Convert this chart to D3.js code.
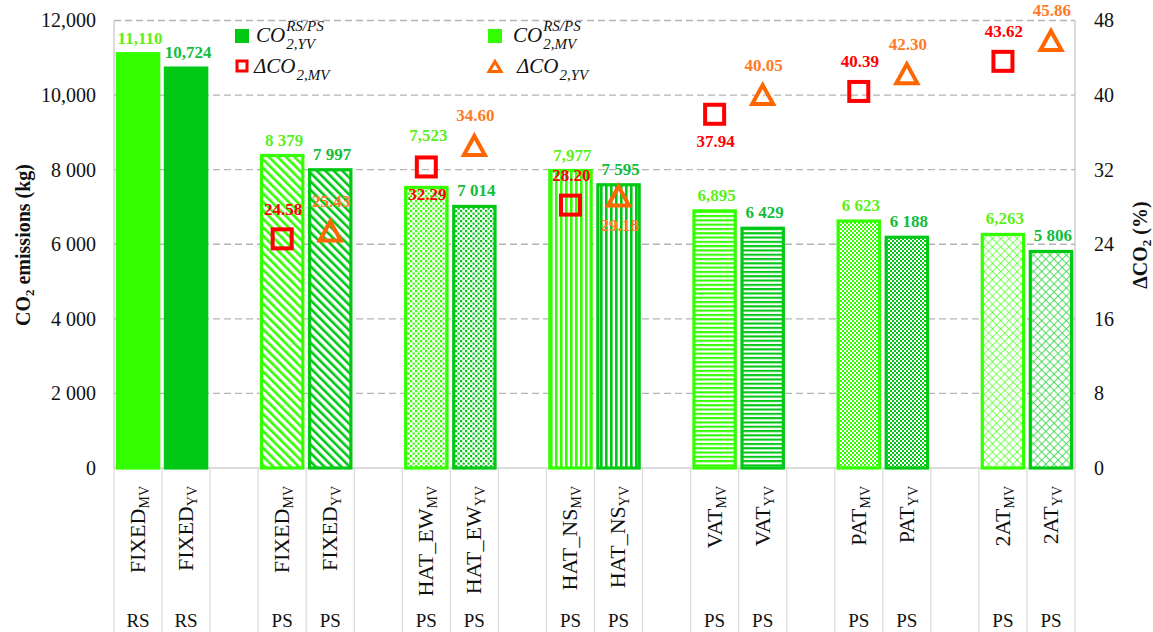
<!DOCTYPE html>
<html><head><meta charset="utf-8">
<script src="https://cdn.jsdelivr.net/npm/d3@7"></script>
<style>
html,body{margin:0;padding:0;background:#fff;}
svg{display:block;font-family:"Liberation Serif","Times New Roman",serif;}
</style></head><body>
<svg id="chart" width="1153" height="632"></svg>
<script>
// ---- data ----
const groups = ["FIXED", "FIXED", "HAT_EW", "HAT_NS", "VAT", "PAT", "2AT"];
const systems = ["RS", "PS", "PS", "PS", "PS", "PS", "PS"];
const variants = ["MV", "YV"];
const co2MV = [11110, 8379, 7523, 7977, 6895, 6623, 6263];
const co2YV = [10724, 7997, 7014, 7595, 6429, 6188, 5806];
const co2MVLabels = ["11,110", "8 379", "7,523", "7,977", "6,895", "6 623", "6,263"];
const co2YVLabels = ["10,724", "7 997", "7 014", "7 595", "6 429", "6 188", "5 806"];
const deltaMV = [null, 24.58, 32.29, 28.20, 37.94, 40.39, 43.62];
const deltaYV = [null, 25.43, 34.60, 29.18, 40.05, 42.30, 45.86];
const leftTicks = [0, 2000, 4000, 6000, 8000, 10000, 12000];
const leftTickLabels = ["0", "2 000", "4 000", "6 000", "8 000", "10,000", "12,000"];
const rightTicks = [0, 8, 16, 24, 32, 40, 48];

// ---- layout / style ----
const fills = ["solid", "diag", "dots", "vert", "horiz", "check", "cross"];
const deltaMVSide = [null, "above", "below", "above", "below", "above", "above"];
const deltaYVSide = [null, "above", "above", "below", "above", "above", "above"];
const mvLabelLift = [0, 0, 36, 0, 0, 0, 0];
const C_MV = "#33ff00", C_YV = "#00c814";
const C_MV_TXT = "#5cf01a", C_YV_TXT = "#12bd3c";
const C_RED = "#ff0000", C_ORANGE = "#ff6600", C_ORANGE_TXT = "#ff7a26";
const box = {left: 114, right: 1075, top: 20.5, bottom: 468};

const svg = d3.select("#chart");

// slot list: MV, YV and a spacer between consecutive groups
const slots = [];
groups.forEach((g, i) => {
  slots.push(i + "|MV"); slots.push(i + "|YV");
  if (i < groups.length - 1) slots.push(i + "|gap");
});

const x = d3.scaleBand().domain(slots).range([box.left, box.right])
  .paddingInner(0.14).paddingOuter(0.07);
const y = d3.scaleLinear().domain([0, 12000]).range([box.bottom, box.top]);
const y2 = d3.scaleLinear().domain([0, 48]).range([box.bottom, box.top]);

// ---- fill patterns ----
const defs = svg.append("defs");
function makePattern(id, kind, color) {
  const p = defs.append("pattern").attr("id", id).attr("patternUnits", "userSpaceOnUse");
  const sz = {diag: [6, 6], dots: [5, 5], vert: [5, 5], horiz: [5, 4.3], check: [4, 4], cross: [5.8, 5.8]}[kind];
  p.attr("width", sz[0]).attr("height", sz[1]);
  p.append("rect").attr("width", sz[0]).attr("height", sz[1]).attr("fill", "#fff");
  if (kind === "diag") {
    p.attr("patternTransform", "rotate(-45)");
    p.append("rect").attr("width", 2.6).attr("height", 6).attr("fill", color);
  } else if (kind === "dots") {
    p.append("rect").attr("width", 2.2).attr("height", 2.2).attr("fill", color);
    p.append("rect").attr("x", 2.5).attr("y", 2.5).attr("width", 2.2).attr("height", 2.2).attr("fill", color);
  } else if (kind === "vert") {
    p.append("rect").attr("width", 2.6).attr("height", 5).attr("fill", color);
  } else if (kind === "horiz") {
    p.append("rect").attr("width", 5).attr("height", 2.1).attr("fill", color);
  } else if (kind === "check") {
    p.append("rect").attr("width", 2).attr("height", 2).attr("fill", color);
    p.append("rect").attr("x", 2).attr("y", 2).attr("width", 2).attr("height", 2).attr("fill", color);
  } else if (kind === "cross") {
    p.attr("patternTransform", "rotate(45)");
    p.append("rect").attr("width", 5.8).attr("height", 1.1).attr("fill", color).attr("opacity", 0.6);
    p.append("rect").attr("width", 1.1).attr("height", 5.8).attr("fill", color).attr("opacity", 0.6);
  }
}
fills.forEach(k => {
  if (k === "solid") return;
  makePattern("p-" + k + "-MV", k, C_MV);
  makePattern("p-" + k + "-YV", k, C_YV);
});

// ---- gridlines & frame ----
svg.append("g").selectAll("line").data(leftTicks.filter(t => t > 0)).join("line")
  .attr("x1", box.left).attr("x2", box.right)
  .attr("y1", d => y(d)).attr("y2", d => y(d))
  .attr("stroke", "#b4b4b4").attr("stroke-width", 1.3).attr("stroke-dasharray", "7,4");
svg.append("line").attr("x1", box.left).attr("x2", box.left).attr("y1", box.top).attr("y2", box.bottom)
  .attr("stroke", "#c8c8c8").attr("stroke-width", 1.3);
svg.append("line").attr("x1", box.right).attr("x2", box.right).attr("y1", box.top).attr("y2", box.bottom)
  .attr("stroke", "#c8c8c8").attr("stroke-width", 1.3);

// category table under the plot
const step = x.step();
svg.append("g").selectAll("line").data(d3.range(slots.length + 1)).join("line")
  .attr("x1", i => box.left + i * step).attr("x2", i => box.left + i * step)
  .attr("y1", box.bottom).attr("y2", 632)
  .attr("stroke", "#dcdcdc").attr("stroke-width", 1.3);
svg.append("line").attr("x1", box.left).attr("x2", box.right).attr("y1", box.bottom).attr("y2", box.bottom)
  .attr("stroke", "#d0d0d0").attr("stroke-width", 1.5);

// ---- bars ----
const bars = [];
groups.forEach((g, i) => {
  bars.push({i, v: "MV", value: co2MV[i], label: co2MVLabels[i]});
  bars.push({i, v: "YV", value: co2YV[i], label: co2YVLabels[i]});
});
svg.append("g").selectAll("rect").data(bars).join("rect")
  .attr("x", d => x(d.i + "|" + d.v))
  .attr("width", x.bandwidth())
  .attr("y", d => y(d.value))
  .attr("height", d => y(0) - y(d.value))
  .attr("fill", d => fills[d.i] === "solid" ? (d.v === "MV" ? C_MV : C_YV) : `url(#p-${fills[d.i]}-${d.v})`)
  .attr("stroke", d => d.v === "MV" ? C_MV : C_YV)
  .attr("stroke-width", 3.2);

// bar value labels
svg.append("g").selectAll("text").data(bars).join("text")
  .attr("x", d => x(d.i + "|" + d.v) + x.bandwidth() / 2 + 2)
  .attr("y", d => y(d.value) - 10 - (d.v === "MV" ? mvLabelLift[d.i] : 0))
  .attr("text-anchor", "middle")
  .attr("font-size", 17).attr("font-weight", "bold")
  .attr("fill", d => d.v === "MV" ? C_MV_TXT : C_YV_TXT)
  .text(d => d.label);

// ---- percentage markers ----
const cx = (i, v) => x(i + "|" + v) + x.bandwidth() / 2;
const mvPts = deltaMV.map((d, i) => ({i, d})).filter(p => p.d != null);
const yvPts = deltaYV.map((d, i) => ({i, d})).filter(p => p.d != null);

svg.append("g").selectAll("rect").data(mvPts).join("rect")
  .attr("x", p => cx(p.i, "MV") - 9.5).attr("y", p => y2(p.d) - 9.5)
  .attr("width", 19).attr("height", 19)
  .attr("fill", "none").attr("stroke", C_RED).attr("stroke-width", 4);
const tri = d3.line()([[0, -9.5], [10.5, 9.5], [-10.5, 9.5]]) + "Z";
svg.append("g").selectAll("path").data(yvPts).join("path")
  .attr("transform", p => `translate(${cx(p.i, "YV")},${y2(p.d)})`)
  .attr("d", tri)
  .attr("fill", "none").attr("stroke", C_ORANGE).attr("stroke-width", 4);

svg.append("g").selectAll("text").data(mvPts).join("text")
  .attr("x", p => cx(p.i, "MV") + 1)
  .attr("y", p => y2(p.d) + (deltaMVSide[p.i] === "above" ? -24 : 33))
  .attr("text-anchor", "middle").attr("font-size", 17).attr("font-weight", "bold")
  .attr("fill", C_RED).text(p => p.d.toFixed(2));
svg.append("g").selectAll("text").data(yvPts).join("text")
  .attr("x", p => cx(p.i, "YV") + 1)
  .attr("y", p => y2(p.d) + (deltaYVSide[p.i] === "above" ? -24 : 35))
  .attr("text-anchor", "middle").attr("font-size", 17).attr("font-weight", "bold")
  .attr("fill", C_ORANGE_TXT).text(p => p.d.toFixed(2));

// ---- axes ----
const axL = svg.append("g").attr("transform", `translate(${box.left},0)`)
  .call(d3.axisLeft(y).tickValues(leftTicks).tickSize(0).tickPadding(18)
    .tickFormat((d, k) => leftTickLabels[k]));
const axR = svg.append("g").attr("transform", `translate(${box.right},0)`)
  .call(d3.axisRight(y2).tickValues(rightTicks).tickSize(0).tickPadding(19)
    .tickFormat(d => String(d)));
[axL, axR].forEach(a => {
  a.select(".domain").remove();
  a.selectAll("text").attr("font-family", "'Liberation Serif','Times New Roman',serif")
    .attr("font-size", 20).attr("fill", "#111");
});

// axis titles
const tl = svg.append("text").attr("transform", "translate(23,245) rotate(-90)")
  .attr("text-anchor", "middle").attr("dy", "0.35em")
  .attr("font-size", 20).attr("font-weight", "bold").attr("fill", "#111");
tl.append("tspan").text("CO");
tl.append("tspan").attr("font-size", 13).attr("dy", 4).text("2");
tl.append("tspan").attr("dy", -4).text(" emissions (kg)");

const tr = svg.append("text").attr("transform", "translate(1140,245) rotate(-90)")
  .attr("text-anchor", "middle").attr("dy", "0.35em")
  .attr("font-size", 20).attr("font-weight", "bold").attr("fill", "#111");
tr.append("tspan").text("ΔCO");
tr.append("tspan").attr("font-size", 13).attr("dy", 4).text("2");
tr.append("tspan").attr("dy", -4).text(" (%)");

// category labels (rotated) and system labels
const cats = [];
groups.forEach((g, i) => variants.forEach(v => cats.push({i, g, v, sys: systems[i]})));
const catG = svg.append("g").selectAll("text").data(cats).join("text")
  .attr("transform", d => `translate(${cx(d.i, d.v) - 1},486) rotate(-90)`)
  .attr("text-anchor", "end").attr("dy", "0.36em")
  .attr("font-size", 22).attr("fill", "#111");
catG.append("tspan").text(d => d.g);
catG.append("tspan").attr("font-size", 14).attr("dy", 4).text(d => d.v);

svg.append("g").selectAll("text").data(cats).join("text")
  .attr("x", d => cx(d.i, d.v)).attr("y", 627)
  .attr("text-anchor", "middle").attr("font-size", 19).attr("fill", "#111")
  .text(d => d.sys);

// ---- legend ----
function mathLabel(x0, yb, main, sub, sup) {
  const t = svg.append("text").attr("x", x0).attr("y", yb)
    .attr("font-size", 21).attr("font-style", "italic").attr("fill", "#111").text(main);
  const w = t.node().getComputedTextLength();
  svg.append("text").attr("x", x0 + w + 1).attr("y", yb + 7)
    .attr("font-size", 15).attr("font-style", "italic").attr("fill", "#111").text(sub);
  if (sup) svg.append("text").attr("x", x0 + w + 1).attr("y", yb - 11)
    .attr("font-size", 15).attr("font-style", "italic").attr("fill", "#111").text(sup);
}
svg.append("rect").attr("x", 235).attr("y", 29).attr("width", 14).attr("height", 14).attr("fill", C_YV);
mathLabel(256, 42, "CO", "2,YV", "RS/PS");
svg.append("rect").attr("x", 237).attr("y", 61).attr("width", 10).attr("height", 10)
  .attr("fill", "none").attr("stroke", C_RED).attr("stroke-width", 3);
mathLabel(254, 73, "ΔCO", "2,MV");
svg.append("rect").attr("x", 488).attr("y", 29).attr("width", 14).attr("height", 14).attr("fill", C_MV);
mathLabel(513, 42, "CO", "2,MV", "RS/PS");
svg.append("path").attr("transform", "translate(495,66.5)")
  .attr("d", d3.line()([[0, -5], [6, 5], [-6, 5]]) + "Z")
  .attr("fill", "none").attr("stroke", C_ORANGE).attr("stroke-width", 3);
mathLabel(517, 73, "ΔCO", "2,YV");
</script>
</body></html>
